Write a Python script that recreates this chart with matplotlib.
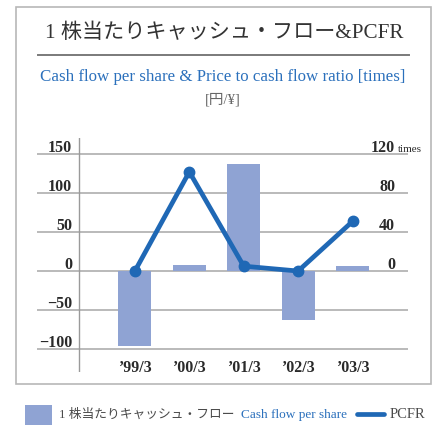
import matplotlib
matplotlib.use("Agg")
import matplotlib.pyplot as plt
from matplotlib.patches import Rectangle
from matplotlib.lines import Line2D
import matplotlib.transforms as mtransforms

# Data
periods = ["’99/3", "’00/3", "’01/3", "’02/3", "’03/3"]
cash_flow_per_share = [-96, 8, 137, -63, 7]     # yen
pcfr = [0, 102, 5, 0, 51]                         # times
left_ticks = [150, 100, 50, 0, -50, -100]
left_tick_labels = ["150", "100", "50", "0", "−50", "−100"]
right_ticks = [120, 80, 40, 0]
right_tick_labels = ["120", "80", "40", "0"]

BAR = "#8fa3d3"
LINE = "#1f68b5"
GRID = "#b4b4b4"
BLUE_TXT = "#2b70bc"
GRAY_TXT = "#4a4a4a"
SERIF = ["Liberation Serif", "Noto Sans CJK JP"]

W, H = 438, 426
fig = plt.figure(figsize=(W / 100, H / 100), dpi=100)
fig.patch.set_facecolor("white")

def fx(px):
    return px / W

def fy(py):
    return 1 - py / H

# Outer frame
fig.add_artist(Rectangle((fx(16), fy(384)), fx(431) - fx(16), fy(7) - fy(384),
                         transform=fig.transFigure, fill=False,
                         edgecolor="#b8b8b8", linewidth=1.2))

# Title and underline
fig.text(fx(224), fy(33), "1 株当たりキャッシュ・フロー&PCFR", ha="center", va="center",
         fontsize=15.2, color="#333333", family=SERIF)
fig.add_artist(Line2D([fx(38), fx(409)], [fy(55), fy(55)], transform=fig.transFigure,
                      color="#7a7a7a", linewidth=1.4))
fig.text(fx(223), fy(77), "Cash flow per share & Price to cash flow ratio [times]",
         ha="center", va="center", fontsize=12.2, color=BLUE_TXT, family=SERIF)
fig.text(fx(223), fy(100), "[円/¥]", ha="center", va="center",
         fontsize=10.5, color="#666666", family=SERIF)

# Plot area
ax_l, ax_r, ax_t, ax_b = 37, 408, 138, 372
ax = fig.add_axes([fx(ax_l), fy(ax_b), fx(ax_r) - fx(ax_l), fy(ax_t) - fy(ax_b)])
ax.set_facecolor("none")
for s in ax.spines.values():
    s.set_visible(False)
ax.set_xticks([])
ax.set_yticks([])

x = list(range(len(periods)))
ax.set_xlim(-1.80, 5.02)
ax.set_ylim(-129.8, 171.0)

for v in left_ticks:
    ax.axhline(v, color=GRID, linewidth=1.3, zorder=1)
ax.axvline(-1.03, color="#9a9a9a", linewidth=1.0, zorder=1)

ax.bar(x, cash_flow_per_share, width=0.607, color=BAR, zorder=2)

ax2 = ax.twinx()
ax2.set_ylim(-129.8 * 0.8, 171.0 * 0.8)
for s in ax2.spines.values():
    s.set_visible(False)
ax2.set_yticks([])
ax2.plot(x, pcfr, color=LINE, linewidth=3.4, marker="o", markersize=7.5,
         solid_capstyle="round", zorder=3)

# Tick labels
tk = dict(fontsize=11.5, fontweight="bold", color="#2a2a2a", family="Liberation Serif")
trans_l = mtransforms.blended_transform_factory(ax.transAxes, ax.transData)
off = mtransforms.offset_copy(trans_l, fig=fig, x=0, y=2, units="dots")
for v, lab in zip(left_ticks, left_tick_labels):
    ax.text((72 - ax_l) / (ax_r - ax_l), v, lab, transform=off, ha="right",
            va="baseline", **tk)
trans_r = mtransforms.blended_transform_factory(ax2.transAxes, ax2.transData)
off_r = mtransforms.offset_copy(trans_r, fig=fig, x=0, y=2, units="dots")
for v, lab in zip(right_ticks, right_tick_labels):
    ax2.text((395 - ax_l) / (ax_r - ax_l), v, lab, transform=off_r, ha="right",
             va="baseline", **tk)
ax2.text((398 - ax_l) / (ax_r - ax_l), 120, "times", transform=off_r, ha="left",
         va="baseline", fontsize=8, color="#2a2a2a", family="Liberation Serif",
         clip_on=False)

trans_x = mtransforms.blended_transform_factory(ax.transData, ax.transAxes)
for xi, lab in zip(x, periods):
    ax.text(xi, 0.0, lab, transform=trans_x, ha="center", va="baseline", **tk)

# Legend
fig.add_artist(Rectangle((fx(25), fy(425)), fx(52) - fx(25), fy(405) - fy(425),
                         transform=fig.transFigure, facecolor=BAR, edgecolor="none"))
fig.text(fx(59), fy(415), "1 株当たりキャッシュ・フロー", ha="left", va="center",
         fontsize=9.2, color=GRAY_TXT, family=SERIF)
fig.text(fx(241), fy(415), "Cash flow per share", ha="left", va="center",
         fontsize=9.5, color=BLUE_TXT, family=SERIF)
fig.add_artist(Line2D([fx(357), fx(384)], [fy(414), fy(414)], transform=fig.transFigure,
                      color=LINE, linewidth=3.4, solid_capstyle="round"))
fig.text(fx(390), fy(415), "PCFR", ha="left", va="center",
         fontsize=10.5, color=GRAY_TXT, family=SERIF)

fig.savefig("out.png", dpi=100)
